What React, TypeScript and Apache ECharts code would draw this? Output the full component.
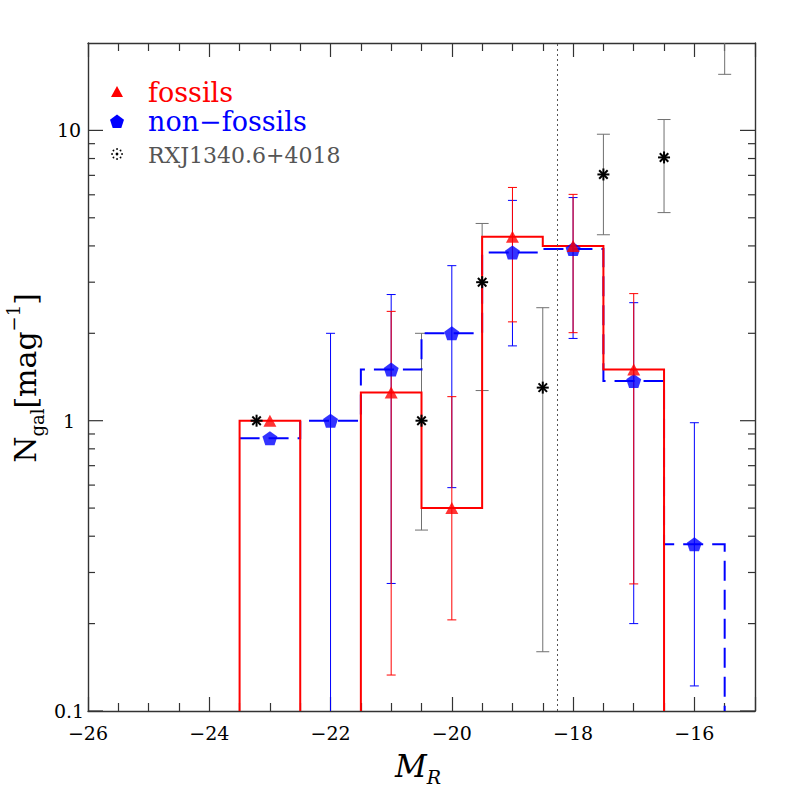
import React, { useEffect, useRef } from "react";
import * as echarts from "echarts";

// ---- data ----
const BIN_CENTERS = [-23, -22, -21, -20, -19, -18, -17, -16];
const FOSSIL_N = [1.0, 0, 1.25, 0.5, 4.3, 4.0, 1.5, 0];
const FOSSIL_LO = [null, null, 0.133, 0.206, 2.19, 2.01, 0.274, null];
const FOSSIL_HI = [null, null, 2.38, 1.21, 6.36, 6.02, 2.74, null];
const NONFOSSIL_N = [0.87, 1.0, 1.5, 2.0, 3.8, 3.9, 1.37, 0.375];
const NONFOSSIL_LO = [null, 0, 0.275, 0.588, 1.81, 1.92, 0.2, 0.122];
const NONFOSSIL_HI = [null, 2.0, 2.72, 3.42, 5.74, 5.87, 2.55, 0.984];
const RXJ_M = [-23.22, -20.5, -19.5, -18.5, -17.5, -16.5, -15.5];
const RXJ_N = [1.0, 1.0, 3.0, 1.3, 7.05, 8.07, 25];
const RXJ_LO = [null, 0.42, 1.27, 0.16, 4.37, 5.21, 15.6];
const RXJ_HI = [null, 2.0, 4.78, 2.45, 9.7, 10.9, 40];
const LIMIT_MAG = -18.26;

const X_MIN = -26;
const X_MAX = -15;
const X_INTERVAL = 2;
const X_TICK_LABELS = [-26, -24, -22, -20, -18, -16];
const Y_MIN = 0.1;
const Y_MAX = 20;
const Y_MAJOR = [0.1, 1, 10];
const Y_MINOR_MULT = [2, 3, 4, 5, 6, 7, 8, 9];

const RED = "#ff0000";
const BLUE = "#0000ff";
const GRAY = "#707070";
const FRAME = "#333333";
const SERIF = "'DejaVu Serif', 'Liberation Serif', serif";

type Pt = [number, number];

function stepSegments(centers: number[], values: number[], riseFirst: boolean): Pt[][] {
  const segs: Pt[][] = [];
  let cur: Pt[] | null = null;
  let lastR = 0;
  let first = true;
  centers.forEach((c, i) => {
    const v = values[i];
    const l = c - 0.5;
    const r = c + 0.5;
    if (!v) {
      if (cur) {
        cur.push([l, Y_MIN]);
        segs.push(cur);
        cur = null;
      }
      return;
    }
    if (!cur) cur = first && !riseFirst ? [] : [[l, Y_MIN]];
    first = false;
    cur.push([l, v], [r, v]);
    lastR = r;
  });
  if (cur) {
    (cur as Pt[]).push([lastR, Y_MIN]);
    segs.push(cur);
  }
  return segs;
}

function errRows(xs: number[], vals: number[], lo: (number | null)[], hi: (number | null)[]) {
  const rows: number[][] = [];
  xs.forEach((x, i) => {
    if (lo[i] === null || hi[i] === null) return;
    rows.push([x, lo[i] as number, hi[i] as number, vals[i]]);
  });
  return rows;
}

function histSeries(segs: Pt[][], color: string, dash: number[] | null, z: number) {
  return {
    type: "custom",
    coordinateSystem: "cartesian2d",
    silent: true,
    z,
    data: [[BIN_CENTERS[0], 1]],
    renderItem: (_p: any, api: any) => ({
      type: "group",
      children: segs.map((seg) => ({
        type: "polyline",
        shape: { points: seg.map((pt) => api.coord(pt)) },
        style: { stroke: color, lineWidth: 2, fill: null, lineDash: dash || undefined },
      })),
    }),
  };
}

function errSeries(rows: number[][], color: string, capHalf: number, z: number) {
  return {
    type: "custom",
    coordinateSystem: "cartesian2d",
    silent: true,
    z,
    data: rows,
    renderItem: (_p: any, api: any) => {
      const x = api.value(0);
      const lo = api.value(1);
      const hi = api.value(2);
      const loClip = lo <= Y_MIN;
      const hiClip = hi >= Y_MAX;
      const pLo = api.coord([x, loClip ? Y_MIN : lo]);
      const pHi = api.coord([x, hiClip ? Y_MAX : hi]);
      const style = { stroke: color, lineWidth: 1 };
      const children: any[] = [
        { type: "line", shape: { x1: pLo[0], y1: pLo[1], x2: pHi[0], y2: pHi[1] }, style },
      ];
      if (!loClip)
        children.push({ type: "line", shape: { x1: pLo[0] - capHalf, y1: pLo[1], x2: pLo[0] + capHalf, y2: pLo[1] }, style });
      if (!hiClip)
        children.push({ type: "line", shape: { x1: pHi[0] - capHalf, y1: pHi[1], x2: pHi[0] + capHalf, y2: pHi[1] }, style });
      return { type: "group", children };
    },
  };
}

export default function App() {
  const ref = useRef<HTMLDivElement>(null);

  useEffect(() => {
    if (!ref.current) return;
    const chart = echarts.init(ref.current, undefined, { renderer: "svg" });

    const redSegs = stepSegments(BIN_CENTERS, FOSSIL_N, true);
    const blueSegs = stepSegments(BIN_CENTERS, NONFOSSIL_N, false);
    const redErr = errRows(BIN_CENTERS, FOSSIL_N, FOSSIL_LO, FOSSIL_HI);
    const blueErr = errRows(BIN_CENTERS, NONFOSSIL_N, NONFOSSIL_LO, NONFOSSIL_HI);
    const rxjErr = errRows(RXJ_M, RXJ_N, RXJ_LO, RXJ_HI);

    const yTicks: { v: number; major: boolean }[] = [];
    Y_MAJOR.forEach((d) => {
      yTicks.push({ v: d, major: true });
      Y_MINOR_MULT.forEach((k) => {
        const v = d * k;
        if (v < Y_MAX) yTicks.push({ v, major: false });
      });
    });

    const pentagon = "path://M0,-10L9.51,-3.09L5.88,8.09L-5.88,8.09L-9.51,-3.09Z";

    const xAxisBase = {
      type: "value",
      min: X_MIN,
      max: X_MAX,
      interval: X_INTERVAL,
      splitLine: { show: false },
      axisLine: { show: true, onZero: false, lineStyle: { color: FRAME, width: 1.4 } },
      axisTick: { show: true, inside: true, length: 14, lineStyle: { color: FRAME, width: 1.2 } },
      minorTick: { show: true, splitNumber: 4, length: 8, lineStyle: { color: FRAME, width: 1.2 } },
    };

    // legend dotted circle
    const dotCircle: any[] = [];
    for (let k = 0; k < 8; k++) {
      const a = (k * Math.PI) / 4;
      dotCircle.push({
        type: "circle",
        shape: { cx: 117 + 5 * Math.cos(a), cy: 154 + 5 * Math.sin(a), r: 0.9 },
        style: { fill: "#000" },
      });
    }
    dotCircle.push({ type: "circle", shape: { cx: 117, cy: 154, r: 1.4 }, style: { fill: "#000" } });

    chart.setOption({
      animation: false,
      backgroundColor: "#ffffff",
      grid: { left: 88, right: 42, top: 43, bottom: 86, containLabel: false },
      xAxis: [
        {
          ...xAxisBase,
          position: "bottom",
          axisLabel: {
            show: true,
            margin: 12,
            fontFamily: SERIF,
            fontSize: 19,
            color: "#000",
            formatter: (v: number) => (X_TICK_LABELS.indexOf(v) >= 0 ? "\u2212" + Math.abs(v) : ""),
          },
        },
        { ...xAxisBase, position: "top", axisLabel: { show: false } },
      ],
      yAxis: [
        {
          type: "log",
          logBase: 10,
          min: Y_MIN,
          max: Y_MAX,
          position: "left",
          splitLine: { show: false },
          axisTick: { show: false },
          axisLine: { show: true, onZero: false, lineStyle: { color: FRAME, width: 1.4 } },
          axisLabel: {
            show: true,
            margin: 19,
            align: "center",
            fontFamily: SERIF,
            fontSize: 19,
            color: "#000",
            showMaxLabel: false,
            formatter: (v: number) => {
              const m = Y_MAJOR.find((mm) => Math.abs(mm - v) / mm < 1e-6);
              return m !== undefined ? String(m) : "";
            },
          },
        },
        {
          type: "log",
          logBase: 10,
          min: Y_MIN,
          max: Y_MAX,
          position: "right",
          splitLine: { show: false },
          axisTick: { show: false },
          axisLabel: { show: false },
          axisLine: { show: true, onZero: false, lineStyle: { color: FRAME, width: 1.4 } },
        },
      ],
      series: [
        // y ticks (log decades, left and right)
        {
          type: "custom",
          coordinateSystem: "cartesian2d",
          silent: true,
          z: 1,
          data: [[X_MIN, 1]],
          renderItem: (params: any, api: any) => {
            const cs = params.coordSys;
            const children: any[] = [];
            yTicks.forEach((t) => {
              const py = api.coord([X_MIN, t.v])[1];
              const len = t.major ? 15 : 7;
              const style = { stroke: FRAME, lineWidth: 1.2 };
              children.push({ type: "line", shape: { x1: cs.x, y1: py, x2: cs.x + len, y2: py }, style });
              children.push({ type: "line", shape: { x1: cs.x + cs.width - len, y1: py, x2: cs.x + cs.width, y2: py }, style });
            });
            return { type: "group", children };
          },
        },
        errSeries(rxjErr, GRAY, 6.5, 2),
        errSeries(blueErr, BLUE, 4.5, 2),
        errSeries(redErr, RED, 4.5, 2),
        histSeries(blueSegs, BLUE, [20, 9], 3),
        histSeries(redSegs, RED, null, 4),
        {
          type: "scatter",
          name: "fossils",
          z: 6,
          symbol: "triangle",
          symbolSize: [13, 12],
          itemStyle: { color: RED },
          data: BIN_CENTERS.map((c, i) => [c, FOSSIL_N[i]]).filter((d) => d[1] > 0),
          markLine: {
            silent: true,
            symbol: ["none", "none"],
            label: { show: false },
            lineStyle: { type: [2, 3], color: "#555", width: 1 },
            data: [{ xAxis: LIMIT_MAG }],
          },
        },
        {
          type: "scatter",
          name: "non-fossils",
          z: 5,
          symbol: pentagon,
          symbolSize: [15, 14],
          itemStyle: { color: BLUE },
          data: BIN_CENTERS.map((c, i) => [c, NONFOSSIL_N[i]]).filter((d) => d[1] > 0),
        },
        {
          type: "custom",
          name: "RXJ1340.6+4018",
          coordinateSystem: "cartesian2d",
          silent: true,
          z: 7,
          data: RXJ_M.map((m, i) => [m, RXJ_N[i]]).filter((d) => d[1] < Y_MAX),
          renderItem: (_p: any, api: any) => {
            const p = api.coord([api.value(0), api.value(1)]);
            const r = 6;
            const style = { stroke: "#000", lineWidth: 2 };
            const angs = [0, 45, 90, 135];
            return {
              type: "group",
              children: angs.map((a) => {
                const rad = (a * Math.PI) / 180;
                const dx = r * Math.cos(rad);
                const dy = r * Math.sin(rad);
                return { type: "line", shape: { x1: p[0] - dx, y1: p[1] - dy, x2: p[0] + dx, y2: p[1] + dy }, style };
              }),
            };
          },
        },
      ],
      graphic: [
        { type: "polygon", shape: { points: [[117, 86], [123, 97], [111, 97]] }, style: { fill: RED } },
        {
          type: "polygon",
          shape: { points: [[117, 114.5], [124, 119.7], [121.3, 128], [112.7, 128], [110, 119.7]] },
          style: { fill: BLUE },
        },
        { type: "group", children: dotCircle },
        {
          type: "text",
          x: 148,
          y: 92,
          style: { text: "fossils", fill: RED, fontFamily: SERIF, fontSize: 27, verticalAlign: "middle", align: "left" },
        },
        {
          type: "text",
          x: 148,
          y: 121,
          style: { text: "non\u2212fossils", fill: BLUE, fontFamily: SERIF, fontSize: 27, verticalAlign: "middle", align: "left" },
        },
        {
          type: "text",
          x: 148,
          y: 155,
          style: { text: "RXJ1340.6+4018", fill: "#555", fontFamily: SERIF, fontSize: 22, verticalAlign: "middle", align: "left" },
        },
        {
          type: "text",
          x: 418,
          y: 766,
          style: {
            text: "{m|M}{r|R}",
            align: "center",
            verticalAlign: "middle",
            rich: {
              m: { fontFamily: SERIF, fontStyle: "italic", fontSize: 31, lineHeight: 40, fill: "#000", verticalAlign: "middle" },
              r: { fontFamily: SERIF, fontStyle: "italic", fontSize: 19, lineHeight: 19, fill: "#000", verticalAlign: "bottom" },
            },
          },
        },
        {
          type: "text",
          x: 25,
          y: 378,
          rotation: Math.PI / 2,
          style: {
            text: "{n|N}{s|gal}{n|[mag}{p|\u22121}{n|]}",
            align: "center",
            verticalAlign: "middle",
            rich: {
              n: { fontFamily: SERIF, fontSize: 30, lineHeight: 42, fill: "#000", verticalAlign: "middle" },
              s: { fontFamily: SERIF, fontSize: 18, lineHeight: 18, fill: "#000", verticalAlign: "bottom" },
              p: { fontFamily: SERIF, fontSize: 18, lineHeight: 18, fill: "#000", verticalAlign: "top" },
            },
          },
        },
      ],
    });

    return () => chart.dispose();
  }, []);

  return <div ref={ref} style={{ position: "fixed", left: 0, top: 0, width: 797, height: 797, background: "#fff" }} />;
}
